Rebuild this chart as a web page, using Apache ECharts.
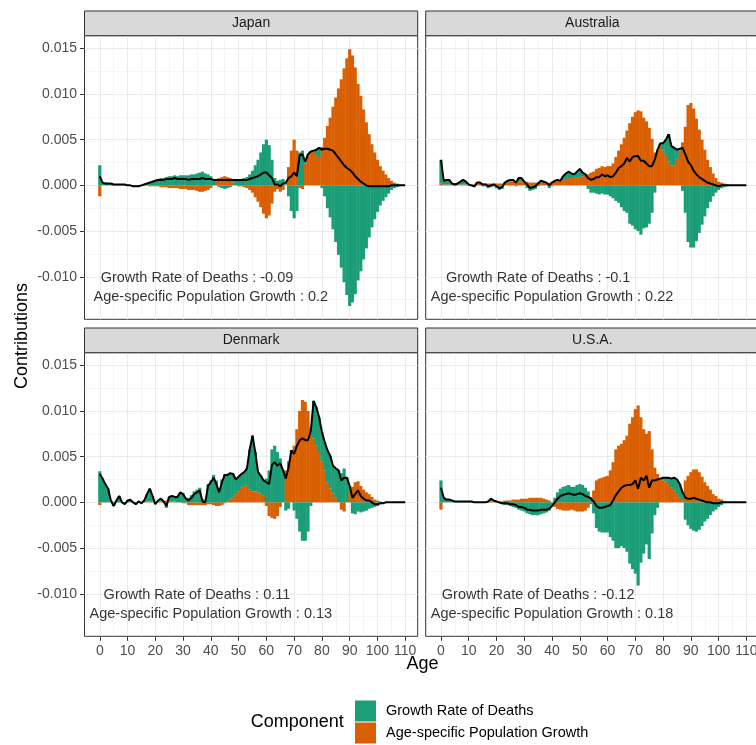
<!DOCTYPE html>
<html><head><meta charset="utf-8">
<script src="https://cdn.jsdelivr.net/npm/echarts@6/dist/echarts.min.js"></script>
<style>html,body{margin:0;padding:0;background:#fff}#c{width:756px;height:745px}</style>
</head><body><div id="c"></div>
<script>
const FONT = "'Liberation Sans', Arial, Helvetica, sans-serif";
const UNIT = 1e-4; // all series values below are in units of 0.0001

const ages = [0,1,2,3,4,5,6,7,8,9,10,11,12,13,14,15,16,17,18,19,20,21,22,23,24,25,26,27,28,29,30,31,32,33,34,35,36,37,38,39,40,41,42,43,44,45,46,47,48,49,50,51,52,53,54,55,56,57,58,59,60,61,62,63,64,65,66,67,68,69,70,71,72,73,74,75,76,77,78,79,80,81,82,83,84,85,86,87,88,89,90,91,92,93,94,95,96,97,98,99,100,101,102,103,104,105,106,107,108,109,110];

const japanDeaths = [22,3,2,2,2,1,1,1,1,1, 0,0,-1,-1,-1,0,1,2,4,5, 6,7,8,8,9,10,10,11,10,11, 11,11,11,12,12,13,14,15,13,12, 10,6,1,-2,-3,-4,-3,-2,3,6, 7,7,8,9,12,16,22,28,36,45, 50,44,28,8,5,6,7,2,-12,-28, -36,-28,36,38,2,2,0,0,6,10, -3,-12,-25,-35,-48,-62,-76,-90,-106,-120, -132,-128,-119,-104,-94,-81,-69,-57,-46,-37, -29,-22,-17,-13,-9,-5,-3,-2,-1,0, 0];
const japanPop = [-12,0,0,0,0,0,0,0,0,0, 0,0,0,0,0,0,0,0,-1,-1, -1,-1,-2,-2,-2,-3,-3,-3,-3,-4, -4,-4,-5,-5,-5,-6,-7,-7,-6,-5, -3,0,5,8,9,10,9,8,3,0, -1,-1,-2,-3,-5,-8,-13,-18,-24,-31, -36,-33,-20,-7,-4,-7,-5,1,20,38, 50,38,-3,-4,24,32,37,38,33,31, 42,52,65,74,86,96,106,116,128,139, 149,142,129,111,98,83,69,56,45,36, 28,21,16,12,8,5,3,2,1,0, 0];

const australiaDeaths = [26,4,5,5,1,0,1,3,5,3, 0,-1,-2,1,1,-1,-1,-3,-2,-1, -3,-5,-4,0,2,2,2,-1,4,4, 0,-3,-6,-5,-4,-1,2,1,0,-3, -1,1,1,0,4,6,7,5,3,6, 9,4,1,-4,-8,-8,-9,-10,-9,-10, -10,-12,-14,-17,-19,-24,-28,-30,-42,-44, -48,-50,-54,-47,-46,-42,-30,-8,0,2, 8,18,30,21,19,11,2,-6,-30,-62, -68,-68,-61,-52,-43,-34,-25,-18,-12,-8, -5,-3,-2,-1,0,0,0,0,0,0, 0];
const australiaPop = [2,1,1,1,1,1,1,1,1,1, 1,1,1,2,2,2,2,2,2,2, 2,2,2,3,3,4,4,4,4,4, 4,4,3,3,3,3,3,3,3,3, 4,4,5,5,6,7,8,8,9,9, 9,10,11,12,14,15,18,19,21,20, 21,21,24,31,38,45,52,60,68,75, 80,82,81,74,70,63,51,36,39,44, 38,32,26,22,22,28,38,47,64,88, 90,84,73,61,50,39,28,20,13,8, 4,3,2,1,0,0,0,0,0,0, 0];

const denmarkDeaths = [34,26,20,15,2,-4,2,7,0,-2, 2,3,0,-2,1,-1,2,8,14,6, -2,1,3,0,-6,5,6,5,6,11, 10,5,5,8,12,14,16,4,3,20, 24,30,24,15,25,31,29,28,25,16, 16,15,15,19,44,61,43,22,19,16, 26,35,58,62,55,48,35,-9,-7,2, -9,-18,-32,-42,-42,-32,-4,41,42,38, 32,31,35,36,30,32,35,32,37,27, 6,-12,-13,-10,-11,-10,-9,-7,-6,-5, -4,-2,-1,0,0,0,0,0,0,0, 0];
const denmarkPop = [-3,0,0,0,0,0,0,0,0,0, 0,0,0,0,0,0,0,1,1,1, 0,1,1,1,2,1,1,1,0,0, -1,-1,-3,-3,-3,-3,-3,-3,-3,-2, -2,-3,-4,-4,-3,-1,1,4,6,9, 12,16,18,18,14,12,12,11,10,8, -4,-15,-17,-18,-15,-5,0,35,45,55, 62,80,100,112,110,100,82,70,62,55, 45,35,22,15,10,5,0,-8,-10,0, 12,17,22,23,18,14,11,9,6,3, 2,1,0,0,0,0,0,0,0,0, 0];

const usaDeaths = [24,5,3,3,2,1,1,1,1,1, 1,1,0,0,0,0,0,1,3,1, 0,-1,-2,-3,-3,-4,-5,-6,-8,-9, -10,-12,-13,-14,-14,-14,-13,-12,-11,-9, -4,5,11,15,17,18,19,17,17,19, 20,19,16,12,6,-12,-28,-32,-33,-33, -33,-38,-42,-50,-50,-48,-50,-54,-67,-73, -78,-91,-66,-56,-46,-62,-34,-14,-6,0, 3,4,7,10,14,16,15,9,-19,-25, -29,-31,-32,-30,-26,-21,-18,-14,-10,-8, -5,-3,-1,0,0,0,0,0,0,0, 0];
const usaPop = [-8,0,0,0,0,0,0,0,0,0, 0,0,0,0,0,0,0,0,1,1, 1,1,1,2,2,2,3,3,3,4, 4,4,5,5,5,5,5,4,3,2, 0,-5,-7,-8,-9,-9,-9,-8,-9,-10, -10,-10,-9,-6,-2,13,24,26,27,28, 29,35,44,58,62,64,68,73,86,93, 102,106,93,80,75,78,58,38,31,26, 24,23,20,16,13,9,5,2,24,29, 33,36,36,33,28,22,18,14,9,7, 4,3,1,0,0,0,0,0,0,0, 0];

const countries = ['Japan', 'Australia', 'Denmark', 'U.S.A.'];
const deathsTotals = ['-0.09', '-0.1', '0.11', '-0.12'];
const popTotals = ['0.2', '0.22', '0.13', '0.18'];
const NAME_DEATHS = 'Growth Rate of Deaths';
const NAME_POP = 'Age-specific Population Growth';

const xTicks = [0,10,20,30,40,50,60,70,80,90,100,110];
const xMinor = [-5,5,15,25,35,45,55,65,75,85,95,105];
const yTicks = [-0.010,-0.005,0,0.005,0.010,0.015];
const yTickLabels = ['-0.010','-0.005','0.000','0.005','0.010','0.015'];
const yMinor = [-0.0125,-0.0075,-0.0025,0.0025,0.0075,0.0125];

// annotation anchor (age, value) for the two text lines
const annotAges = [35, 40];
const annotValues = [-0.0101, -0.01225];

// layout
const GREEN = '#1b9e77', ORANGE = '#d95f02';
const X_MIN = -5.5, X_MAX = 114.5, CAT_FIRST = -5, CAT_LAST = 114;
const Y_MIN = -0.01465, Y_MAX = 0.01637;
const PANEL_LEFT = [84.5, 425.7, 84.5, 425.7];
const PANEL_TOP = [35.7, 35.7, 352.7, 352.7];
const PANEL_W = 333.2, PANEL_H = 283.6, STRIP_H = 24.7;

const catLabels = [];
for (let a = CAT_FIRST; a <= CAT_LAST; a++) catLabels.push(String(a));

const panelData = [
  [japanDeaths, japanPop], [australiaDeaths, australiaPop],
  [denmarkDeaths, denmarkPop], [usaDeaths, usaPop]
];

const grids = [], xAxes = [], yAxes = [], series = [], elements = [];
for (let i = 0; i < 4; i++) {
  const isBottom = i >= 2, isLeft = i % 2 === 0;
  const deaths = panelData[i][0], pop = panelData[i][1];
  grids.push({left: PANEL_LEFT[i], top: PANEL_TOP[i], width: PANEL_W, height: PANEL_H,
    show: true, borderColor: '#333333', borderWidth: 1, backgroundColor: 'transparent',
    containLabel: false, outerBoundsMode: 'none'});
  xAxes.push({type: 'category', gridIndex: i, data: catLabels, show: false, position: 'bottom',
    axisLine: {show: false, onZero: false}});
  xAxes.push({type: 'value', gridIndex: i, min: X_MIN, max: X_MAX, position: 'bottom',
    axisLine: {show: false, onZero: false},
    axisTick: {show: isBottom, customValues: xTicks, length: 4.5, inside: false, lineStyle: {color: '#333333', width: 1}},
    axisLabel: {show: isBottom, customValues: xTicks, color: '#4d4d4d', fontSize: 14, fontFamily: FONT, margin: 8},
    splitLine: {show: true, lineStyle: {color: '#ebebeb', width: 1}}});
  xAxes.push({type: 'value', gridIndex: i, min: X_MIN, max: X_MAX, position: 'bottom',
    axisLine: {show: false, onZero: false}, axisTick: {show: false, customValues: xMinor}, axisLabel: {show: false},
    splitLine: {show: true, lineStyle: {color: '#ebebeb', width: 0.5}}});
  yAxes.push({type: 'value', gridIndex: i, min: Y_MIN, max: Y_MAX, position: 'left',
    axisLine: {show: false, onZero: false},
    axisTick: {show: isLeft, customValues: yTicks, length: 4.5, inside: false, lineStyle: {color: '#333333', width: 1}},
    axisLabel: {show: isLeft, customValues: yTicks, color: '#4d4d4d', fontSize: 14, fontFamily: FONT, margin: 7.5,
      formatter: function (v) {
        for (let k = 0; k < yTicks.length; k++) if (Math.abs(yTicks[k] - v) < 1e-9) return yTickLabels[k];
        return '';
      }},
    splitLine: {show: true, lineStyle: {color: '#ebebeb', width: 1}}});
  yAxes.push({type: 'value', gridIndex: i, min: Y_MIN, max: Y_MAX, position: 'left',
    axisLine: {show: false, onZero: false}, axisTick: {show: false, customValues: yMinor}, axisLabel: {show: false},
    splitLine: {show: true, lineStyle: {color: '#ebebeb', width: 0.5}}});

  const xi = 3 * i, yi = 2 * i;
  series.push({type: 'bar', name: NAME_POP, xAxisIndex: xi, yAxisIndex: yi, stack: 'st' + i,
    barWidth: 3.2, itemStyle: {color: ORANGE}, silent: true,
    data: ages.map((a, k) => [String(a), pop[k] * UNIT])});
  series.push({type: 'bar', name: NAME_DEATHS, xAxisIndex: xi, yAxisIndex: yi, stack: 'st' + i,
    barWidth: 3.2, itemStyle: {color: GREEN}, silent: true,
    data: ages.map((a, k) => [String(a), deaths[k] * UNIT])});
  series.push({type: 'line', name: 'total' + i, xAxisIndex: xi, yAxisIndex: yi, z: 3,
    symbol: 'none', showSymbol: false, silent: true, lineStyle: {color: '#000000', width: 2},
    data: ages.map((a, k) => [String(a), (deaths[k] + pop[k]) * UNIT])});
  series.push({type: 'scatter', name: 'note' + i, xAxisIndex: xi, yAxisIndex: yi, z: 4,
    symbolSize: 1, itemStyle: {color: 'rgba(0,0,0,0)'}, silent: true,
    label: {show: true, position: 'inside', color: '#000000', fontSize: 14.5, fontFamily: FONT},
    data: [
      {value: [String(annotAges[0]), annotValues[0]], label: {formatter: NAME_DEATHS + ' : ' + deathsTotals[i]}},
      {value: [String(annotAges[1]), annotValues[1]], label: {formatter: NAME_POP + ' : ' + popTotals[i]}}
    ]});

  const stripTop = PANEL_TOP[i] - STRIP_H;
  elements.push({type: 'rect', shape: {x: PANEL_LEFT[i], y: stripTop, width: PANEL_W, height: STRIP_H},
    style: {fill: '#d9d9d9', stroke: '#333333', lineWidth: 1}, z: 10});
  elements.push({type: 'text', x: PANEL_LEFT[i] + PANEL_W / 2, y: stripTop + STRIP_H / 2, z: 11,
    style: {text: countries[i], fill: '#1a1a1a', fontSize: 14, fontFamily: FONT, align: 'center', verticalAlign: 'middle'}});
}

elements.push({type: 'text', x: 22, y: 336, rotation: Math.PI / 2, z: 11,
  style: {text: 'Contributions', fill: '#000000', fontSize: 18, fontFamily: FONT, align: 'center', verticalAlign: 'middle'}});
elements.push({type: 'text', x: 422.5, y: 664, z: 11,
  style: {text: 'Age', fill: '#000000', fontSize: 18, fontFamily: FONT, align: 'center', verticalAlign: 'middle'}});
elements.push({type: 'text', x: 250.7, y: 722.5, z: 11,
  style: {text: 'Component', fill: '#000000', fontSize: 18, fontFamily: FONT, align: 'left', verticalAlign: 'middle'}});

const chart = echarts.init(document.getElementById('c'), null, {renderer: 'canvas'});
chart.setOption({
  animation: false,
  backgroundColor: '#ffffff',
  grid: grids, xAxis: xAxes, yAxis: yAxes, series: series,
  legend: {data: [NAME_DEATHS, NAME_POP], orient: 'vertical', left: 355, top: 700.5,
    itemWidth: 21, itemHeight: 21, itemGap: 1, icon: 'rect', selectedMode: false, padding: 0,
    textStyle: {fontSize: 14.5, color: '#000000', fontFamily: FONT, padding: [0, 0, 0, 5]}},
  graphic: {elements: elements}
});
</script></body></html>
